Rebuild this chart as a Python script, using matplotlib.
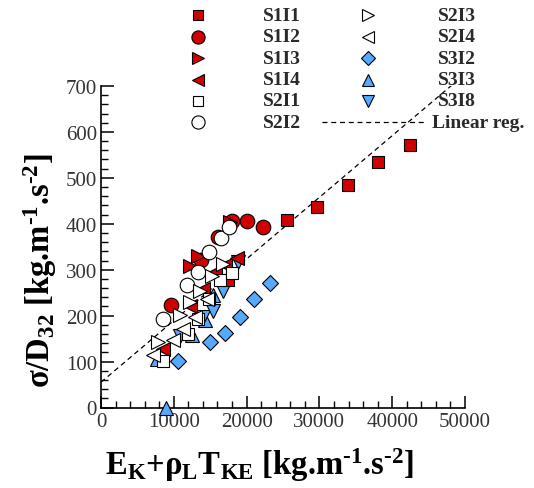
import numpy as np
import matplotlib
matplotlib.use('Agg')
import matplotlib.pyplot as plt
from matplotlib.ticker import MultipleLocator

plt.rcParams['font.family'] = 'Liberation Serif'
plt.rcParams['mathtext.fontset'] = 'custom'
plt.rcParams['mathtext.rm'] = 'Liberation Serif:bold'
plt.rcParams['mathtext.it'] = 'Liberation Serif:bold'
plt.rcParams['mathtext.bf'] = 'Liberation Serif:bold'
plt.rcParams['mathtext.default'] = 'bf'

# ---- data ----
s1i1_x = [17450, 25600, 29700, 33970, 38090, 42400]
s1i1_y = [278, 408, 436, 485, 534, 571]
s1i2_x = [9550, 13690, 16070, 17950, 20010, 22210]
s1i2_y = [224, 321, 371, 407, 407, 394]
s1i3_x = [12225, 13365, 17720]
s1i3_y = [307, 329, 404]
s1i4_x = [8560, 12225, 14010, 15660, 17100, 18640]
s1i4_y = [128, 222, 258, 294, 311, 325]
s2i1_x = [8450, 11910, 13320, 14875, 16345, 17950]
s2i1_y = [102, 160, 193, 236, 278, 293]
s2i2_x = [8560, 11855, 13365, 14900, 16415, 17650]
s2i2_y = [192, 267, 296, 339, 368, 394]
s2i3_x = [7870, 10850, 12225, 13600, 15205, 16800]
s2i3_y = [143, 202, 230, 254, 287, 312]
s2i4_x = [7100, 9930, 11305, 12910, 14560]
s2i4_y = [114, 146, 171, 197, 236]
s3i2_x = [10620, 14970, 17030, 19090, 21040, 23210]
s3i2_y = [101, 142, 162, 196, 236, 271]
s3i3_x = [8860, 7760, 12460, 14300, 15400]
s3i3_y = [0, 105, 157, 190, 245]
s3i8_x = [10850, 14050, 15340, 16800, 18860]
s3i8_y = [156, 196, 211, 254, 317]

reg_intercept = 55.0
reg_slope = 0.01342

RED = '#d10000'
BLUE = '#55aaff'
WHITE = 'white'

# name, x, y, marker, face, size (plot), size (legend)
series = [
    ('S3I2', s3i2_x, s3i2_y, 'D', BLUE, 8.5, 7),
    ('S3I3', s3i3_x, s3i3_y, '^', BLUE, 10, 8),
    ('S3I8', s3i8_x, s3i8_y, 'v', BLUE, 10, 8),
    ('S1I1', s1i1_x, s1i1_y, 's', RED, 8, 6.5),
    ('S1I2', s1i2_x, s1i2_y, 'o', RED, 10.5, 9.5),
    ('S1I3', s1i3_x, s1i3_y, '>', RED, 10, 8),
    ('S1I4', s1i4_x, s1i4_y, '<', RED, 10, 8),
    ('S2I1', s2i1_x, s2i1_y, 's', WHITE, 8, 6.5),
    ('S2I2', s2i2_x, s2i2_y, 'o', WHITE, 10.5, 9.5),
    ('S2I3', s2i3_x, s2i3_y, '>', WHITE, 10, 8),
    ('S2I4', s2i4_x, s2i4_y, '<', WHITE, 10, 8),
]
legend_order = ['S1I1', 'S1I2', 'S1I3', 'S1I4', 'S2I1', 'S2I2',
                'S2I3', 'S2I4', 'S3I2', 'S3I3', 'S3I8']

fig = plt.figure(figsize=(5.34, 4.89), dpi=100)
ax = fig.add_axes([101 / 534, 80.5 / 489, 364 / 534, 321.5 / 489])

# regression line
xr = np.array([0, 50000])
ax.plot(xr, reg_intercept + reg_slope * xr, color='black', lw=0.9,
        dashes=(4, 3), zorder=1)

for name, x, y, m, fc, ms, _ in series:
    ax.plot(x, y, linestyle='none', marker=m, markersize=ms,
            markerfacecolor=fc, markeredgecolor='black', markeredgewidth=0.8,
            clip_on=False, zorder=3)

ax.set_xlim(0, 50000)
ax.set_ylim(0, 700)
ax.xaxis.set_major_locator(MultipleLocator(10000))
ax.xaxis.set_minor_locator(MultipleLocator(2000))
ax.yaxis.set_major_locator(MultipleLocator(100))
ax.yaxis.set_minor_locator(MultipleLocator(20))
for s in ['top', 'right']:
    ax.spines[s].set_visible(False)
for s in ['left', 'bottom']:
    ax.spines[s].set_linewidth(1.2)
ax.tick_params(which='major', direction='in', length=9, width=1.1,
               labelsize=15, labelcolor='#333333', pad=3)
ax.tick_params(which='minor', direction='in', length=5, width=1.0)

# axis labels
unit = r'[kg.m$^{\text{-}1}$.s$^{\text{-}2}$]'
fig.text(260 / 534, 1 - 465 / 489,
         r'E$_K$+ρ$_L$T$_{KE}$ ' + unit,
         fontsize=23.5, fontweight='bold', ha='center', va='center')
fig.text(40 / 534, 1 - 271 / 489,
         r'σ/D$_{32}$ ' + unit,
         fontsize=23.5, fontweight='bold', ha='center', va='center',
         rotation=90)

# legend (two columns, drawn by hand like the original)
lax = fig.add_axes([0, 0, 1, 1], facecolor='none')
lax.set_xlim(0, 534)
lax.set_ylim(489, 0)
lax.axis('off')
style = {s[0]: s for s in series}
for i, name in enumerate(legend_order):
    col, row = divmod(i, 6)
    yy = 16.3 + 21.4 * row
    mx = [198, 368][col]
    tx = [263, 438][col]
    _, _, _, m, fc, _, lms = style[name]
    lax.plot([mx], [yy], linestyle='none', marker=m, markersize=lms,
             markerfacecolor=fc, markeredgecolor='black', markeredgewidth=0.8)
    lax.text(tx, yy, name, fontsize=14, fontweight='bold', color='#2a2a2a',
             ha='left', va='center')
yy = 16.3 + 21.4 * 5
lax.plot([322, 426], [yy, yy], color='black', lw=0.9, dashes=(4, 3))
lax.text(432, yy, 'Linear reg.', fontsize=14, fontweight='bold',
         color='#2a2a2a', ha='left', va='center')

fig.savefig('out.png', dpi=100)
